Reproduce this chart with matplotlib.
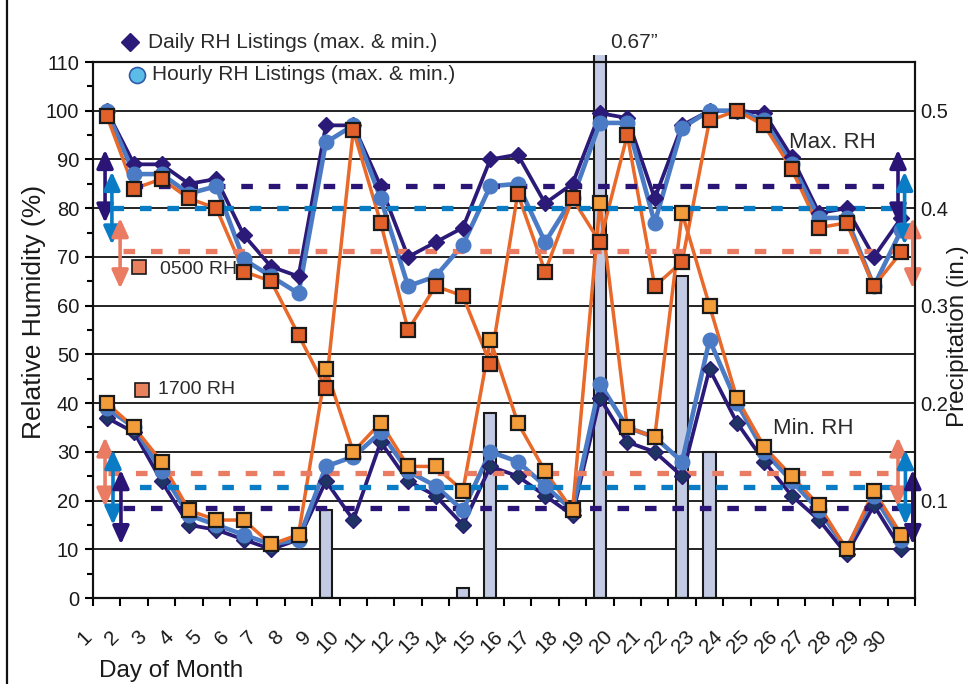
import numpy as np
import matplotlib
matplotlib.use('Agg')
import matplotlib.pyplot as plt
import matplotlib.transforms as mtransforms
from matplotlib.lines import Line2D
from matplotlib.patches import Rectangle

plt.rcParams['font.family'] = ['Liberation Sans', 'DejaVu Sans']

# ---------------- data ----------------
days = list(range(1, 31))
day_labels = [str(d) for d in days]

daily_max = [100, 89, 89, 85, 86, 74.5, 68, 66, 97, 97, 84.5, 70, 73, 76, 90,
             91, 81, 85, 99.5, 98.5, 82, 97, 100, 100, 99.5, 90.5, 79, 80, 70, 78]
hourly_max = [100, 87, 87, 83, 84.5, 69.5, 66, 62.5, 93.5, 97, 82, 64, 66, 72.5, 84.5,
              85, 73, 82, 97.5, 97.5, 77, 96.5, 100, 100, 98, 89, 78, 78, 64, 75.5]
rh_0500 = [99, 84, 86, 82, 80, 67, 65, 54, 43, 96, 77, 55, 64, 62, 48,
           83, 67, 82, 73, 95, 64, 69, 98, 100, 97, 88, 76, 77, 64, 71]

daily_min = [37, 34, 24, 15, 14, 12, 10, 12, 24, 16, 32, 24, 21, 15, 27,
             25, 21, 17, 41, 32, 30, 25, 47, 36, 28, 21, 16, 9, 19, 10]
hourly_min = [39, 35, 26, 17, 15, 13, 11, 12, 27, 29, 34, 26, 23, 18, 30,
              28, 23, 18, 44, 35, 33, 28, 53, 40, 30, 24, 18, 10, 21, 12]
rh_1700 = [40, 35, 28, 18, 16, 16, 11, 13, 47, 30, 36, 27, 27, 22, 53,
           36, 26, 18, 81, 35, 33, 79, 60, 41, 31, 25, 19, 10, 22, 13]

precip_days = [9, 14, 15, 19, 22, 23]
precip_in = [0.09, 0.01, 0.19, 0.67, 0.33, 0.15]

# averages (dashed lines) and their ranges (double arrows)
avg_upper = {'daily': 84.5, 'hourly': 80.0, 'obs': 71.3}
avg_lower = {'daily': 18.5, 'hourly': 22.8, 'obs': 25.7}
range_upper = {'daily': (77, 92), 'hourly': (72.5, 87.5), 'obs': (63.5, 78)}
range_lower = {'daily': (11, 26.3), 'hourly': (15, 30.4), 'obs': (18.7, 33)}

# ---------------- styles ----------------
NAVY = '#2B1A78'
NAVY_MIN = '#1E3462'
BLUE = '#4A7BC4'
ORANGE = '#E8692A'
DARK_SQ = '#E2612B'
LIGHT_SQ = '#F29C3A'
EDGE = '#1A1A1A'
D_NAVY = '#2A1577'
D_BLUE = '#0A7CC6'
D_SALMON = '#E97C63'
BAR = '#C3CAE3'
TXT = '#2A2A2A'

W, H = 972, 684
fig = plt.figure(figsize=(W / 100, H / 100), dpi=100)
ax = fig.add_axes([93 / W, 86 / H, 822 / W, 536 / H])
ax2 = ax.twinx()
ax.set_xlim(0.5, 30.5)
ax.set_ylim(0, 110)
ax2.set_ylim(0, 0.55)

# gridlines
ax.set_yticks(np.arange(0, 111, 10))
ax.set_yticks(np.arange(5, 110, 10), minor=True)
ax.grid(axis='y', which='major', color='#111111', lw=1.3)
ax.set_axisbelow(True)

# precipitation bars (drawn in precip units via twin transform)
bars = ax.bar(precip_days, precip_in, width=0.44, color=BAR, edgecolor=EDGE,
              linewidth=1.5, transform=ax2.transData, zorder=1)
for b in bars:
    b.set_clip_path(Rectangle((0, 0), 1, 1.013, transform=ax.transAxes))

# series lines
ax.plot(days, daily_max, color=NAVY, lw=2.7, zorder=3)
ax.plot(days, hourly_max, color=BLUE, lw=3.3, zorder=3.1)
ax.plot(days, rh_0500, color=ORANGE, lw=2.5, zorder=3.2)
ax.plot(days, daily_min, color=NAVY, lw=2.7, zorder=3)
ax.plot(days, hourly_min, color=BLUE, lw=3.3, zorder=3.1)
ax.plot(days, rh_1700, color=ORANGE, lw=2.5, zorder=3.2)

# dashed average lines
dash = dict(lw=3.8, dashes=(2.2, 3.0), zorder=4, solid_capstyle='butt', dash_capstyle='butt')
ax.plot([1.9, 29.7], [avg_upper['daily']] * 2, color=D_NAVY, **dash)
ax.plot([1.2, 29.9], [avg_upper['hourly']] * 2, color=D_BLUE, **dash)
ax.plot([1.6, 30.2], [avg_upper['obs']] * 2, color=D_SALMON, **dash)
ax.plot([1.6, 30.2], [avg_lower['daily']] * 2, color=D_NAVY, **dash)
ax.plot([1.2, 30.0], [avg_lower['hourly']] * 2, color=D_BLUE, **dash)
ax.plot([1.05, 29.8], [avg_lower['obs']] * 2, color=D_SALMON, **dash)

# markers
ax.plot(days, daily_max, ls='none', marker='D', ms=8.5, mfc=NAVY, mec=NAVY, zorder=5)
ax.plot(days, hourly_max, ls='none', marker='o', ms=10.5, mfc=BLUE, mec=BLUE, zorder=5.1)
ax.plot(days, rh_0500, ls='none', marker='s', ms=10, mfc=DARK_SQ, mec=EDGE, mew=1.6, zorder=5.2)
ax.plot(days, daily_min, ls='none', marker='D', ms=8.5, mfc=NAVY_MIN, mec=NAVY, zorder=5)
ax.plot(days, hourly_min, ls='none', marker='o', ms=10.5, mfc=BLUE, mec=BLUE, zorder=5.1)
ax.plot(days, rh_1700, ls='none', marker='s', ms=10, mfc=LIGHT_SQ, mec=EDGE, mew=1.6, zorder=5.2)


def darrow(x, lo, hi, color):
    ax.annotate('', xy=(x, hi), xytext=(x, lo), annotation_clip=False,
                arrowprops=dict(arrowstyle='<|-|>,head_length=0.55,head_width=0.25',
                                color=color, lw=2.6, shrinkA=0, shrinkB=0,
                                mutation_scale=20), zorder=6)


# left arrows
darrow(0.94, *range_upper['daily'], D_NAVY)
darrow(1.19, *range_upper['hourly'], D_BLUE)
darrow(1.49, *range_upper['obs'], D_SALMON)
darrow(0.94, *range_lower['obs'], D_SALMON)
darrow(1.23, *range_lower['hourly'], D_BLUE)
darrow(1.52, *range_lower['daily'], D_NAVY)
# right arrows
darrow(29.88, *range_upper['daily'], D_NAVY)
darrow(30.12, *range_upper['hourly'], D_BLUE)
darrow(30.42, *range_upper['obs'], D_SALMON)
darrow(29.88, *range_lower['obs'], D_SALMON)
darrow(30.15, *range_lower['hourly'], D_BLUE)
darrow(30.42, *range_lower['daily'], D_NAVY)

# axes styling
for s in ax.spines.values():
    s.set_linewidth(1.5)
    s.set_color('#111111')
for s in ax2.spines.values():
    s.set_linewidth(1.5)
    s.set_color('#111111')
ax.tick_params(axis='y', which='major', direction='out', length=6, width=1.5,
               labelsize=14.5, pad=4, labelcolor='#1A1A1A')
ax.tick_params(axis='y', which='minor', direction='out', length=4, width=1.5)
ax.set_xticks(np.arange(0.5, 30.6, 1))
ax.set_xticklabels([])
ax.tick_params(axis='x', direction='out', length=6, width=1.5)
ax2.set_yticks([0.1, 0.2, 0.3, 0.4, 0.5])
ax2.set_yticklabels(['0.1', '0.2', '0.3', '0.4', '0.5'])
ax2.tick_params(axis='y', length=0, labelsize=14.5, pad=4, labelcolor='#1A1A1A')

# rotated day labels
base = mtransforms.blended_transform_factory(ax.transData, ax.transAxes)
off = mtransforms.ScaledTranslation(-0.04, -0.36, fig.dpi_scale_trans)
for d, lab in zip(days, day_labels):
    ax.text(d - 0.5, 0, lab, transform=base + off, rotation=45, ha='right', va='center',
            rotation_mode='anchor', fontsize=15, color='#1A1A1A', clip_on=False)


def fx(px):
    return px / W


def fy(py):
    return 1 - py / H


# axis titles
fig.text(fx(99), fy(677), 'Day of Month', fontsize=17.5, color='#1A1A1A', ha='left', va='baseline')
fig.text(fx(34), fy(312), 'Relative Humidity (%)', fontsize=19, color='#1A1A1A',
         rotation=90, ha='center', va='center')
fig.text(fx(958), fy(336), 'Precipitation (in.)', fontsize=17.5, color='#1A1A1A',
         rotation=90, ha='center', va='center')

# legend-like annotations
fig.add_artist(Line2D([fx(130)], [fy(42)], transform=fig.transFigure, marker='D', ms=9,
                      mfc=NAVY, mec=NAVY, ls='none'))
fig.text(fx(148), fy(42), 'Daily RH Listings (max. & min.)', fontsize=15, color=TXT,
         ha='left', va='center')
fig.add_artist(Line2D([fx(137)], [fy(75)], transform=fig.transFigure, marker='o', ms=11.5,
                      mfc='#5BBCE8', mec='#2F5AA8', mew=1.2, ls='none', zorder=10))
fig.text(fx(152), fy(75), 'Hourly RH Listings (max. & min.)', fontsize=15, color=TXT,
         ha='left', va='center', zorder=10)

fig.add_artist(Line2D([fx(139)], [fy(267)], transform=fig.transFigure, marker='s', ms=10,
                      mfc='#E8825E', mec=EDGE, mew=1.2, ls='none', zorder=10))
fig.text(fx(160), fy(269), '0500 RH', fontsize=14, color=TXT, ha='left', va='center', zorder=10)
fig.add_artist(Line2D([fx(142)], [fy(390)], transform=fig.transFigure, marker='s', ms=10,
                      mfc='#E8825E', mec=EDGE, mew=1.2, ls='none', zorder=10))
fig.text(fx(158), fy(390), '1700 RH', fontsize=14, color=TXT, ha='left', va='center', zorder=10)

fig.text(fx(789), fy(142), 'Max. RH', fontsize=16, color=TXT, ha='left', va='center', zorder=10)
fig.text(fx(773), fy(428), 'Min. RH', fontsize=16, color=TXT, ha='left', va='center', zorder=10)
fig.text(fx(610), fy(43), '0.67\u201d', fontsize=15, color=TXT, ha='left', va='center')

# left frame border
fig.add_artist(Line2D([fx(7), fx(7)], [0, 1], transform=fig.transFigure, color='#111111', lw=1.6))

fig.savefig('out.png', dpi=100)
